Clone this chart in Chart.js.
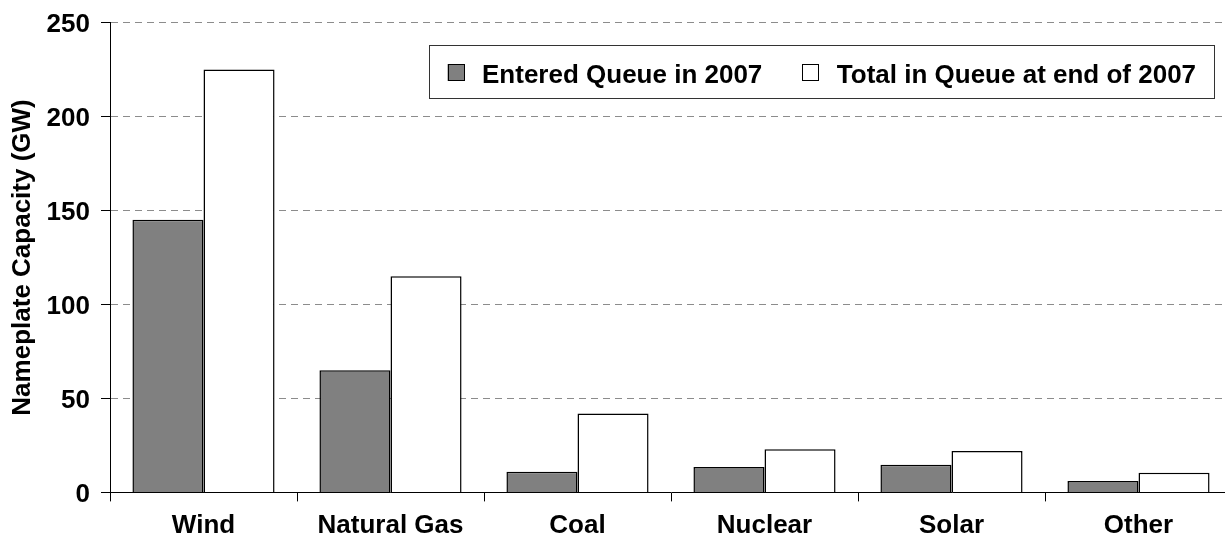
<!DOCTYPE html>
<html>
<head>
<meta charset="utf-8">
<script src="https://cdn.jsdelivr.net/npm/chart.js@4.4.1/dist/chart.umd.min.js"></script>
<style>
html,body{margin:0;padding:0;overflow:hidden;background:#fff;width:1225px;height:538px}
#wrap{width:1240px;height:538px;position:relative}
</style>
</head>
<body>
<div id="wrap"><canvas id="c" width="1240" height="538"></canvas></div>
<script>
const categories = ['Wind', 'Natural Gas', 'Coal', 'Nuclear', 'Solar', 'Other'];
const enteredQueue2007 = [145, 65, 11, 13.5, 14.7, 6];
const totalQueueEnd2007 = [225, 115, 42, 23, 22, 10.5];
const seriesLabels = ['Entered Queue in 2007', 'Total in Queue at end of 2007'];
const yTicks = [0, 50, 100, 150, 200, 250];
const yAxisTitle = 'Nameplate Capacity (GW)';

const FONT = '"Liberation Sans", Arial, Helvetica, sans-serif';

const boxLegend = {
  id: 'boxLegend',
  afterDraw(chart) {
    const ctx = chart.ctx;
    const a = chart.chartArea;
    const x0 = a.left + 318.5, y0 = a.top + 22.5, w = 785, h = 53;
    ctx.save();
    ctx.fillStyle = '#ffffff';
    ctx.fillRect(x0, y0, w, h);
    ctx.strokeStyle = '#333333';
    ctx.lineWidth = 1;
    ctx.strokeRect(Math.round(x0) + 0.5, Math.round(y0) + 0.5, w, h);
    ctx.font = 'bold 26px ' + FONT;
    ctx.textBaseline = 'alphabetic';
    ctx.textAlign = 'left';
    let x = x0 + 19;
    const sy = y0 + 19;
    chart.data.datasets.forEach((ds) => {
      ctx.fillStyle = ds.backgroundColor;
      ctx.fillRect(x, sy, 17, 17);
      ctx.strokeStyle = '#000';
      ctx.lineWidth = 1;
      ctx.strokeRect(Math.round(x) + 0.5, Math.round(sy) + 0.5, 16, 16);
      ctx.fillStyle = '#000';
      ctx.fillText(ds.label, x + 34.5, y0 + 37.5);
      x = x + 34.5 + ctx.measureText(ds.label).width + 40;
    });
    ctx.restore();
  }
};

new Chart(document.getElementById('c'), {
  type: 'bar',
  data: {
    labels: categories,
    datasets: [
      {
        label: seriesLabels[0],
        data: enteredQueue2007,
        backgroundColor: '#808080',
        borderColor: '#000000',
        borderWidth: 1.5,
        barPercentage: 1,
        categoryPercentage: 0.76
      },
      {
        label: seriesLabels[1],
        data: totalQueueEnd2007,
        backgroundColor: '#ffffff',
        borderColor: '#000000',
        borderWidth: 1.5,
        barPercentage: 1,
        categoryPercentage: 0.76
      }
    ]
  },
  options: {
    responsive: false,
    animation: false,
    devicePixelRatio: 1,
    layout: { padding: { top: 22.5, right: 8, bottom: 0, left: 0 } },
    plugins: {
      legend: { display: false },
      tooltip: { enabled: false }
    },
    scales: {
      x: {
        offset: true,
        grid: {
          offset: true,
          drawOnChartArea: false,
          drawTicks: true,
          tickLength: 9,
          tickColor: '#000',
          color: '#000'
        },
        border: { display: true, color: '#000', width: 1 },
        ticks: {
          color: '#000',
          font: { family: FONT, size: 26, weight: 'bold' },
          padding: 9,
          maxRotation: 0,
          autoSkip: false
        },
        afterFit(s) { s.height = 45.6; s.paddingLeft = 0; s.paddingRight = 0; }
      },
      y: {
        min: 0,
        max: 250,
        afterBuildTicks(s) { s.ticks = yTicks.map(v => ({ value: v })); },
        grid: {
          color: (c) => (c.tick && c.tick.value === 0) ? 'rgba(0,0,0,0)' : '#8c8c8c',
          lineWidth: 1,
          drawTicks: true,
          tickLength: 9,
          tickColor: '#000',
          tickBorderDash: []
        },
        border: { display: true, color: '#000', width: 1, dash: [7, 5] },
        ticks: {
          color: '#000',
          font: { family: FONT, size: 26, weight: 'bold' },
          padding: 11,
          labelOffset: 2
        },
        title: {
          display: true,
          text: yAxisTitle,
          color: '#000',
          font: { family: FONT, size: 26, weight: 'bold' },
          padding: { top: 7, bottom: 0 }
        },
        afterFit(s) { s.width = 110; s.paddingTop = 0; s.paddingBottom = 0; }
      }
    }
  },
  plugins: [boxLegend]
});
</script>
</body>
</html>
